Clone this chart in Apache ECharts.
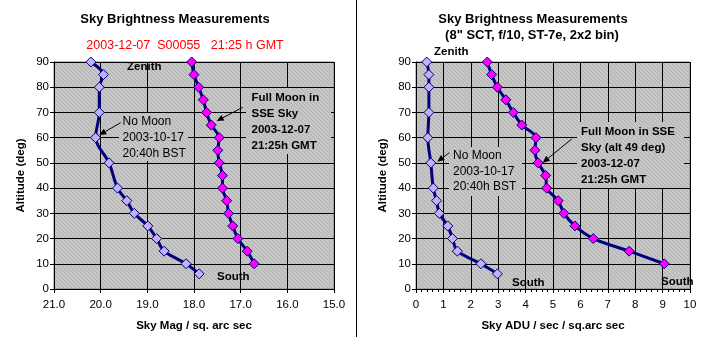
<!DOCTYPE html>
<html>
<head>
<meta charset="utf-8">
<script src="https://cdn.jsdelivr.net/npm/echarts@6/dist/echarts.min.js"></script>
<style>
html,body{margin:0;padding:0;background:#fff;}
#c{width:708px;height:337px;}
</style>
</head>
<body>
<div id="c"></div>
<script>
// ---- data ----
const altNoMoon = [90, 85, 80, 70, 60, 50, 40, 35, 30, 25, 20, 15, 10, 6];
const magNoMoon = [20.21, 19.94, 20.03, 20.03, 20.11, 19.82, 19.64, 19.44, 19.28, 18.99, 18.80, 18.64, 18.17, 17.89];
const aduNoMoon = [0.39, 0.47, 0.47, 0.47, 0.43, 0.54, 0.63, 0.75, 0.85, 1.16, 1.33, 1.51, 2.37, 2.97];
const altMoon = [90, 85, 80, 75, 70, 65, 60, 55, 50, 45, 40, 35, 30, 25, 20, 15, 10];
const magMoon = [18.05, 18.00, 17.90, 17.80, 17.73, 17.63, 17.46, 17.49, 17.46, 17.39, 17.39, 17.30, 17.26, 17.17, 17.06, 16.86, 16.71];
const aduMoon = [2.60, 2.76, 2.97, 3.28, 3.55, 3.86, 4.38, 4.34, 4.46, 4.73, 4.77, 5.19, 5.40, 5.80, 6.47, 7.78, 9.06];

const leftTitle = 'Sky Brightness Measurements';
const leftSubtitle = '2003-12-07  S00055   21:25 h GMT';
const rightTitle = 'Sky Brightness Measurements';
const rightSubtitle = '(8" SCT, f/10, ST-7e, 2x2 bin)';
const leftXName = 'Sky Mag / sq. arc sec';
const rightXName = 'Sky ADU / sec / sq.arc sec';
const yName = 'Altitude (deg)';
const noMoonNote = ['No Moon', '2003-10-17', '20:40h BST'];
const moonNoteLeft = ['Full Moon in', 'SSE Sky', '2003-12-07', '21:25h GMT'];
const moonNoteRight = ['Full Moon in SSE', 'Sky (alt 49 deg)', '2003-12-07', '21:25h GMT'];

// ---- styles ----
const FF = '"Liberation Sans", Arial, sans-serif';
const navy = '#000080';
const lav = '#c4b0f8';
const mag = '#ff00ff';

function hatch() {
  const c = document.createElement('canvas');
  c.width = 4; c.height = 4;
  const g = c.getContext('2d');
  g.fillStyle = '#c6c6c6'; g.fillRect(0, 0, 4, 4);
  g.fillStyle = '#b2b2b2';
  for (let i = 0; i < 4; i++) g.fillRect(i, i, 1, 1);
  return c;
}
const bgPattern = { image: hatch(), repeat: 'repeat' };

const chart = echarts.init(document.getElementById('c'), null, { renderer: 'canvas' });

function pairs(xs, ys) { return xs.map((x, i) => [x, ys[i]]); }

function yAxisCfg(gi) {
  return {
    type: 'value', gridIndex: gi, min: 0, max: 90, interval: 10,
    name: yName, nameLocation: 'middle', nameGap: gi === 0 ? 27 : 27, nameRotate: 90,
    nameTextStyle: { fontFamily: FF, fontWeight: 'bold', fontSize: 11.5, color: '#000' },
    axisLine: { show: true, lineStyle: { color: '#000', width: 1 } },
    axisTick: { show: true, length: 4, lineStyle: { color: '#000' } },
    axisLabel: { fontFamily: FF, fontSize: 11.5, color: '#000', margin: 5 },
    splitLine: { show: true, lineStyle: { color: '#000', width: 1 } }
  };
}

const lineCommon = {
  type: 'line', symbol: 'diamond', symbolSize: 10, smooth: 0.3,
  lineStyle: { color: navy, width: 3 }, z: 3
};

function textEl(t, x, y, size, bold, color, align) {
  return {
    type: 'text', x: x, y: y, z: 100,
    style: {
      text: t, fill: color || '#000', align: align || 'left', verticalAlign: 'middle',
      font: (bold ? 'bold ' : '') + size + 'px ' + FF
    }
  };
}
function box(x1, y1, x2, y2) {
  return { type: 'rect', z: 50, shape: { x: x1, y: y1, width: x2 - x1, height: y2 - y1 }, style: { fill: bgPattern } };
}
function arrow(x1, y1, x2, y2) {
  const dx = x2 - x1, dy = y2 - y1, L = Math.hypot(dx, dy);
  const ux = dx / L, uy = dy / L, hl = 7, hw = 3.2;
  const bx = x2 - ux * hl, by = y2 - uy * hl;
  return [
    { type: 'line', z: 101, shape: { x1: x1, y1: y1, x2: bx, y2: by }, style: { stroke: '#000', lineWidth: 1 } },
    { type: 'polygon', z: 101, shape: { points: [[x2, y2], [bx - uy * hw, by + ux * hw], [bx + uy * hw, by - ux * hw]] }, style: { fill: '#000' } }
  ];
}

const graphics = [
  { type: 'line', z: 100, shape: { x1: 356.5, y1: 0, x2: 356.5, y2: 337 }, style: { stroke: '#000', lineWidth: 1 } },
  textEl(leftTitle, 175, 19, 13, true, '#000', 'center'),
  textEl(leftSubtitle, 185, 46, 12.5, false, '#ff0000', 'center'),
  textEl(rightTitle, 533, 19, 13, true, '#000', 'center'),
  textEl(rightSubtitle, 532, 35, 13, true, '#000', 'center'),
  textEl('Zenith', 127, 67, 11.5, true),
  textEl('South', 217, 277, 11.5, true),
  textEl('Zenith', 434, 52, 11.5, true),
  textEl('South', 512, 283, 11.5, true),
  textEl('South', 661, 282, 11.5, true),
  box(119, 113, 188, 161),
  box(246, 88, 331, 154),
  box(449, 147, 522, 196),
  box(577, 122, 684, 188)
];
noMoonNote.forEach((t, i) => graphics.push(textEl(t, 122.5, 121.5 + i * 16, 12, false)));
moonNoteLeft.forEach((t, i) => graphics.push(textEl(t, 251.5, 97.5 + i * 16, 11.5, true)));
noMoonNote.forEach((t, i) => graphics.push(textEl(t, 453, 156 + i * 15.5, 12, false)));
moonNoteRight.forEach((t, i) => graphics.push(textEl(t, 581, 131.5 + i * 16, 11.5, true)));
graphics.push(...arrow(120.7, 122.7, 99.3, 135));
graphics.push(...arrow(242.7, 107.3, 216.7, 121));
graphics.push(...arrow(449.3, 152.7, 437.3, 161.7));
graphics.push(...arrow(571.7, 139, 542.7, 162.7));

const option = {
  animation: false,
  backgroundColor: '#fff',
  grid: [
    { left: 54, right: 374, top: 62, bottom: 44, show: true, backgroundColor: bgPattern, borderColor: '#808080', borderWidth: 1 },
    { left: 416, right: 18, top: 62, bottom: 44, show: true, backgroundColor: bgPattern, borderColor: '#808080', borderWidth: 1 }
  ],
  xAxis: [
    {
      type: 'value', gridIndex: 0, min: 15, max: 21, interval: 1, inverse: true,
      name: leftXName, nameLocation: 'middle', nameGap: 31,
      nameTextStyle: { fontFamily: FF, fontWeight: 'bold', fontSize: 11.5, color: '#000' },
      axisLine: { show: true, onZero: false, lineStyle: { color: '#000', width: 1 } },
      axisTick: { show: true, length: 4, lineStyle: { color: '#000' } },
      axisLabel: { fontFamily: FF, fontSize: 11.5, color: '#000', margin: 10, formatter: v => v.toFixed(1) },
      splitLine: { show: true, lineStyle: { color: '#000', width: 1 } }
    },
    {
      type: 'value', gridIndex: 1, min: 0, max: 10, interval: 1,
      name: rightXName, nameLocation: 'middle', nameGap: 31,
      nameTextStyle: { fontFamily: FF, fontWeight: 'bold', fontSize: 11.5, color: '#000' },
      axisLine: { show: true, onZero: false, lineStyle: { color: '#000', width: 1 } },
      axisTick: { show: true, length: 4, lineStyle: { color: '#000' } },
      minorTick: { show: true, splitNumber: 5, length: 3, lineStyle: { color: '#000' } },
      axisLabel: { fontFamily: FF, fontSize: 11.5, color: '#000', margin: 10 },
      splitLine: { show: true, lineStyle: { color: '#000', width: 1 } }
    }
  ],
  yAxis: [yAxisCfg(0), yAxisCfg(1)],
  series: [
    Object.assign({}, lineCommon, { name: 'No Moon mag', xAxisIndex: 0, yAxisIndex: 0, data: pairs(magNoMoon, altNoMoon), itemStyle: { color: lav, borderColor: navy, borderWidth: 1 } }),
    Object.assign({}, lineCommon, { name: 'Moon mag', xAxisIndex: 0, yAxisIndex: 0, data: pairs(magMoon, altMoon), itemStyle: { color: mag, borderColor: navy, borderWidth: 1 } }),
    Object.assign({}, lineCommon, { name: 'No Moon ADU', xAxisIndex: 1, yAxisIndex: 1, data: pairs(aduNoMoon, altNoMoon), itemStyle: { color: lav, borderColor: navy, borderWidth: 1 } }),
    Object.assign({}, lineCommon, { name: 'Moon ADU', xAxisIndex: 1, yAxisIndex: 1, data: pairs(aduMoon, altMoon), itemStyle: { color: mag, borderColor: navy, borderWidth: 1 } })
  ],
  graphic: graphics
};
chart.setOption(option);
</script>
</body>
</html>
